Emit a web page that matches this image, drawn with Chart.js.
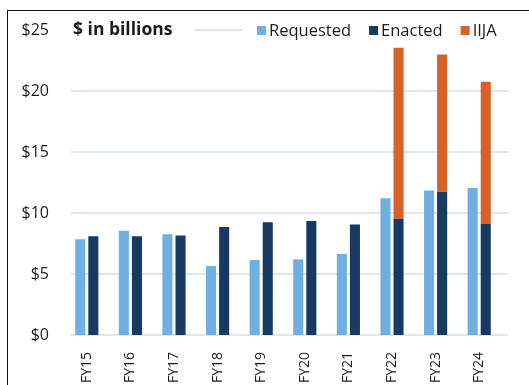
<!DOCTYPE html>
<html>
<head>
<meta charset="utf-8">
<script src="https://cdn.jsdelivr.net/npm/chart.js@4.4.1/dist/chart.umd.min.js"></script>
<style>
  html, body { margin: 0; padding: 0; background: #fff; }
  #wrap { position: relative; width: 529px; height: 385px; }
  #frame {
    position: absolute; left: 7px; top: 10px; right: 0; bottom: 0;
    border-top: 1.5px solid #111; border-left: 1.5px solid #111;
    pointer-events: none;
  }
</style>
</head>
<body>
<div id="wrap">
  <canvas id="fundingChart" width="529" height="385"></canvas>
  <div id="frame"></div>
</div>
<script>
const categories = ['FY15', 'FY16', 'FY17', 'FY18', 'FY19', 'FY20', 'FY21', 'FY22', 'FY23', 'FY24'];
const requested = [7.85, 8.55, 8.25, 5.65, 6.15, 6.2, 6.65, 11.2, 11.85, 12.05];
const enacted = [8.1, 8.1, 8.15, 8.85, 9.25, 9.35, 9.05, 9.5, 11.75, 9.1];
const iija = [null, null, null, null, null, null, null, 14.05, 11.25, 11.65];
const yTicks = [0, 5, 10, 15, 20, 25];
const unitTitle = '$ in billions';

const FONT = '"Open Sans", sans-serif';
const TEXT = '#1b1b1b';
const GRID = '#dfe7ee';

// gridlines sit a little right of the category band, like the original
const gridPlugin = {
    id: 'shiftedGrid',
    beforeDatasetsDraw(chart) {
        const ctx = chart.ctx;
        const area = chart.chartArea;
        const ys = chart.scales.y;
        ctx.save();
        ctx.strokeStyle = GRID;
        ctx.lineWidth = 2;
        ys.ticks.forEach(t => {
            const y = Math.round(ys.getPixelForValue(t.value));
            ctx.beginPath();
            ctx.moveTo(area.left + 6, y);
            ctx.lineTo(area.right + 7, y);
            ctx.stroke();
        });
        ctx.restore();
    }
};

// title + legend sit on top of the $25 gridline, with white behind them
const headerPlugin = {
    id: 'header',
    afterDraw(chart) {
        const ctx = chart.ctx;
        const y = Math.round(chart.scales.y.getPixelForValue(25));
        ctx.save();
        ctx.fillStyle = '#fff';
        ctx.fillRect(62, y - 10, 132, 20);
        ctx.fillRect(242, y - 10, 287, 20);

        ctx.textBaseline = 'middle';
        ctx.fillStyle = TEXT;
        ctx.font = 'bold 17.5px ' + FONT;
        ctx.fillText(unitTitle, 73, y);

        ctx.font = '16.5px ' + FONT;
        let x = 257;
        chart.data.datasets.forEach(ds => {
            ctx.fillStyle = ds.backgroundColor;
            ctx.fillRect(x, y - 4, 9, 9);
            x += 12;
            ctx.fillStyle = TEXT;
            ctx.fillText(ds.label, x, y + 1);
            x += ctx.measureText(ds.label).width + 18;
        });
        ctx.restore();
    }
};

new Chart(document.getElementById('fundingChart').getContext('2d'), {
    type: 'bar',
    data: {
        labels: categories,
        datasets: [
            { label: 'Requested', data: requested, backgroundColor: '#6fb0e0', stack: 'req' },
            { label: 'Enacted', data: enacted, backgroundColor: '#173a63', stack: 'enc' },
            { label: 'IIJA', data: iija, backgroundColor: '#d6622a', stack: 'enc' }
        ]
    },
    options: {
        responsive: false,
        animation: false,
        categoryPercentage: 0.6,
        barPercentage: 0.77,
        layout: { padding: { top: 30, right: 28, left: 0, bottom: 0 } },
        scales: {
            x: {
                stacked: true,
                grid: { display: false },
                border: { display: false },
                ticks: {
                    color: TEXT,
                    font: { family: FONT, size: 14 },
                    minRotation: 90,
                    maxRotation: 90,
                    padding: 9
                },
                afterFit(scale) { scale.height = 50; }
            },
            y: {
                stacked: true,
                min: 0,
                max: 25,
                afterBuildTicks(scale) { scale.ticks = yTicks.map(v => ({ value: v })); },
                grid: { display: false },
                border: { display: false },
                ticks: {
                    color: TEXT,
                    font: { family: FONT, size: 16 },
                    padding: 8,
                    callback: v => '$' + v
                },
                afterFit(scale) { scale.width = 65; }
            }
        },
        plugins: {
            legend: { display: false },
            tooltip: { enabled: false }
        }
    },
    plugins: [gridPlugin, headerPlugin]
});
</script>
</body>
</html>
